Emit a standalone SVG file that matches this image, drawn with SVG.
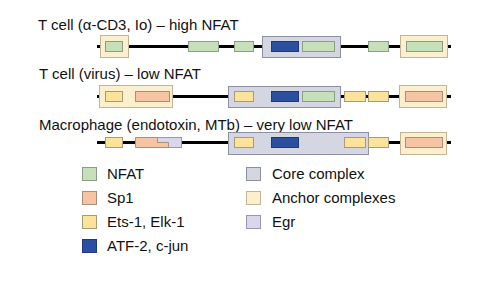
<svg xmlns="http://www.w3.org/2000/svg" width="500" height="282" viewBox="0 0 500 282">
<style>
text{font-family:"Liberation Sans",Arial,sans-serif;font-size:15px;fill:#111}
.dna{stroke:#000;stroke-width:3}
.nfat{fill:#c6e0b9;stroke:#8c9c86;stroke-width:1}
.sp1{fill:#f7c4a3;stroke:#a89080;stroke-width:1}
.ets{fill:#fbe39b;stroke:#a89c78;stroke-width:1}
.atf{fill:#2b4f9e;stroke:#1e3a78;stroke-width:1}
.core{fill:#d4d7e1;stroke:#8c90a0;stroke-width:1}
.anchor{fill:#fcefcd;stroke:#c4b494;stroke-width:1}
.egr{fill:#d9d7ec;stroke:#9a98b0;stroke-width:1}
</style>
<rect width="500" height="282" fill="#fff"/>
<g id="titles">
<text x="38" y="30">T cell (α-CD3, Io) – high NFAT</text>
<text x="39" y="79">T cell (virus) – low NFAT</text>
<text x="39" y="130">Macrophage (endotoxin, MTb) – very low NFAT</text>
</g>
<g id="connectors">
<line class="dna" x1="97" y1="46.5" x2="451" y2="46.5"/>
<line class="dna" x1="97" y1="96.5" x2="451" y2="96.5"/>
<line class="dna" x1="97" y1="142.5" x2="451" y2="142.5"/>
</g>
<g id="row1">
<rect class="anchor" x="100.5" y="35.5" width="28" height="22"/>
<rect class="core" x="262.5" y="36.5" width="78" height="21"/>
<rect class="anchor" x="400.5" y="35.5" width="47" height="22"/>
<rect class="nfat" x="105.5" y="41.5" width="17" height="10"/>
<rect class="nfat" x="188.5" y="41.5" width="30" height="10"/>
<rect class="nfat" x="234.5" y="41.5" width="19" height="10"/>
<rect class="atf" x="271.5" y="41.5" width="27" height="10"/>
<rect class="nfat" x="302.5" y="41.5" width="32" height="10"/>
<rect class="nfat" x="368.5" y="41.5" width="20" height="10"/>
<rect class="nfat" x="406.5" y="41.5" width="36" height="10"/>
</g>
<g id="row2">
<rect class="anchor" x="99.5" y="85.5" width="73" height="22"/>
<rect class="core" x="228.5" y="86.5" width="112" height="21"/>
<rect class="anchor" x="399.5" y="85.5" width="47" height="22"/>
<rect class="ets" x="105.5" y="91.5" width="17" height="10"/>
<rect class="sp1" x="135.5" y="91.5" width="34" height="10"/>
<rect class="ets" x="234.5" y="91.5" width="19" height="10"/>
<rect class="atf" x="271.5" y="91.5" width="27" height="10"/>
<rect class="nfat" x="302.5" y="91.5" width="32" height="10"/>
<rect class="ets" x="344.5" y="91.5" width="21" height="10"/>
<rect class="ets" x="368.5" y="91.5" width="20" height="10"/>
<rect class="sp1" x="405.5" y="91.5" width="37" height="10"/>
</g>
<g id="row3">
<rect class="core" x="228.5" y="132.5" width="140" height="22"/>
<rect class="anchor" x="400.5" y="132.5" width="46" height="22"/>
<rect class="ets" x="105.5" y="137.5" width="17" height="10"/>
<rect class="egr" x="157.5" y="137.5" width="24" height="10"/>
<path class="sp1" d="M135.5 137.5H157.5V142.5H168.5V147.5H135.5Z"/>
<rect class="ets" x="234.5" y="137.5" width="19" height="10"/>
<rect class="atf" x="271.5" y="137.5" width="27" height="10"/>
<rect class="ets" x="344.5" y="137.5" width="21" height="10"/>
<rect class="ets" x="368.5" y="137.5" width="20" height="10"/>
<rect class="sp1" x="405.5" y="137.5" width="37" height="10"/>
</g>
<g id="legend">
<rect class="nfat" x="82.5" y="167.5" width="14" height="13"/>
<text x="107" y="179">NFAT</text>
<rect class="sp1" x="82.5" y="191.5" width="14" height="13"/>
<text x="107" y="203">Sp1</text>
<rect class="ets" x="82.5" y="215.5" width="14" height="13"/>
<text x="107" y="227">Ets-1, Elk-1</text>
<rect class="atf" x="82.5" y="239.5" width="14" height="13"/>
<text x="107" y="251">ATF-2, c-jun</text>
<rect class="core" x="246.5" y="167.5" width="14" height="13"/>
<text x="272" y="179">Core complex</text>
<rect class="anchor" x="246.5" y="191.5" width="14" height="13"/>
<text x="272" y="203">Anchor complexes</text>
<rect class="egr" x="246.5" y="215.5" width="14" height="13"/>
<text x="272" y="227">Egr</text>
</g>
</svg>
